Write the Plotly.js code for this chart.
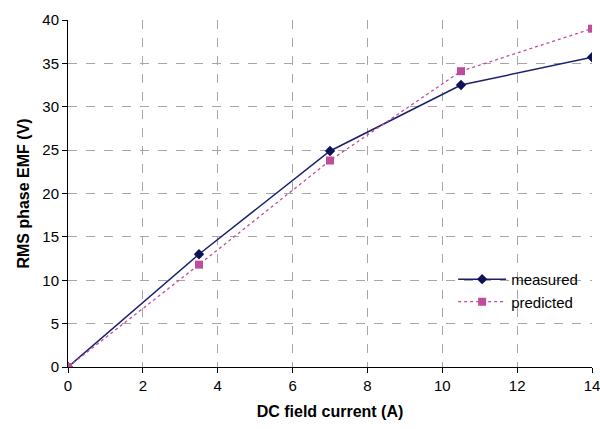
<!DOCTYPE html>
<html>
<head>
<meta charset="utf-8">
<script src="https://cdn.plot.ly/plotly-3.0.1.min.js"></script>
<style>html,body{margin:0;padding:0;background:#fff;}#chart{width:600px;height:429px;}</style>
</head>
<body>
<div id="chart"></div>
<script>
const current = [0, 3.5, 7, 10.5, 14];
const measured = [0, 13.0, 24.9, 32.5, 35.7];
const predicted = [0, 11.8, 23.8, 34.1, 39.0];
const xTicks = [0, 2, 4, 6, 8, 10, 12, 14];
const yTicks = [0, 5, 10, 15, 20, 25, 30, 35, 40];

const traces = [
  {
    x: current, y: measured, name: 'measured', type: 'scatter', mode: 'lines+markers',
    line: {color: '#1a1f6e', width: 1.5},
    marker: {symbol: 'diamond', size: 8, color: '#0d1256'}
  },
  {
    x: current, y: predicted, name: 'predicted', type: 'scatter', mode: 'lines+markers',
    line: {color: '#c04c9c', width: 1.3, dash: 'dot'},
    marker: {symbol: 'square', size: 8, color: '#c04c9c'}
  }
];

const layout = {
  width: 600, height: 429,
  margin: {l: 68, r: 8, t: 20, b: 62},
  paper_bgcolor: '#fff', plot_bgcolor: '#fff',
  font: {family: 'Liberation Sans, Arial, sans-serif', size: 15, color: '#000'},
  showlegend: true,
  legend: {x: 0.735, y: 0.30, xanchor: 'left', yanchor: 'top', bgcolor: 'rgba(0,0,0,0)',
           font: {size: 15}, tracegroupgap: 0, itemwidth: 48},
  xaxis: {
    range: [0, 14], tickvals: xTicks, ticktext: xTicks.map(String),
    ticklabeloverflow: 'allow',
    showgrid: true, gridcolor: '#a6a6a6', griddash: 'dash', gridwidth: 1,
    zeroline: false, showline: true, linecolor: '#000', linewidth: 1,
    ticks: 'outside', ticklen: 5, tickcolor: '#000',
    title: {text: '<b>DC field current (A)</b>', font: {size: 16}, standoff: 12},
    fixedrange: true
  },
  yaxis: {
    range: [0, 40], tickvals: yTicks, ticktext: yTicks.map(String),
    ticklabeloverflow: 'allow',
    showgrid: true, gridcolor: '#a6a6a6', griddash: 'dash', gridwidth: 1,
    zeroline: false, showline: true, linecolor: '#000', linewidth: 1,
    ticks: 'outside', ticklen: 5, tickcolor: '#000',
    title: {text: '<b>RMS phase EMF (V)</b>', font: {size: 16}, standoff: 8},
    fixedrange: true
  }
};

Plotly.newPlot('chart', traces, layout, {displayModeBar: false, staticPlot: true});
</script>
</body>
</html>
